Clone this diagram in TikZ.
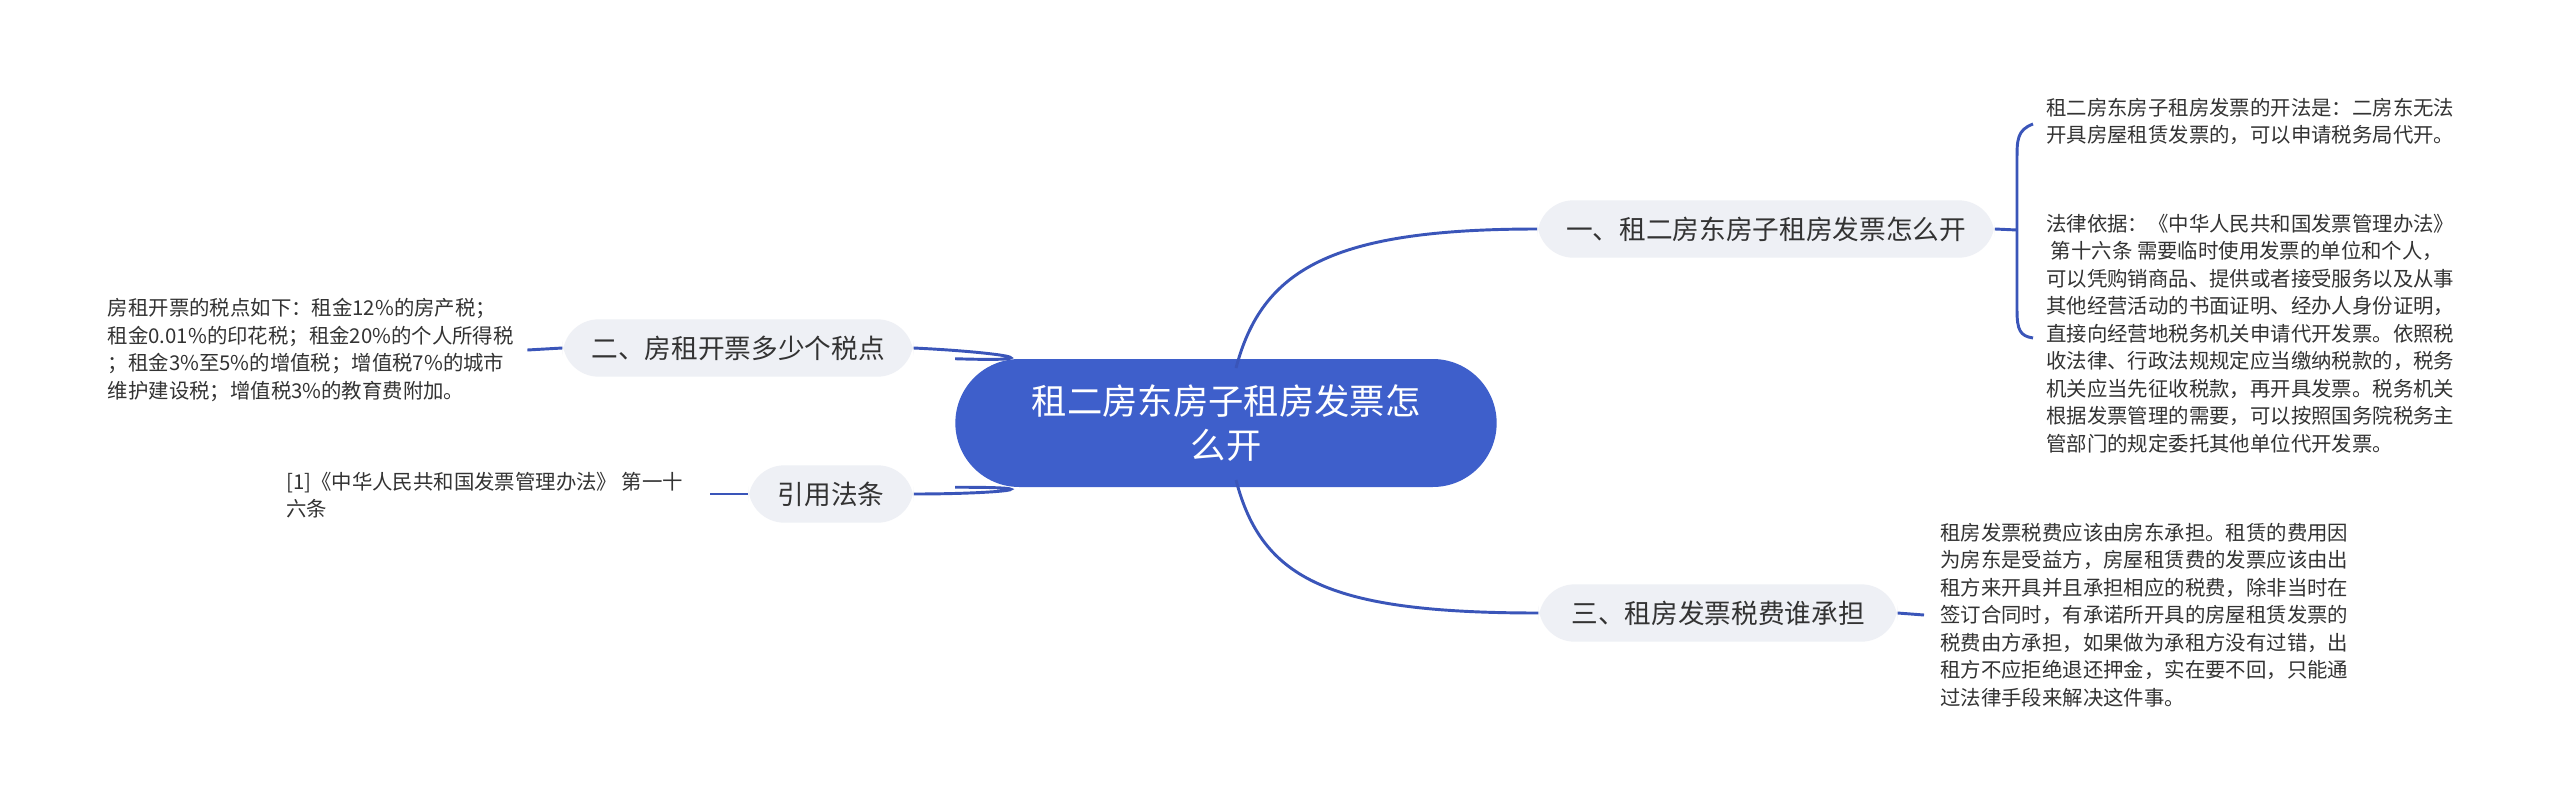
\documentclass[tikz,border=0pt]{standalone}
\usepackage{fontspec}
\setmainfont{Noto Sans CJK SC}
\definecolor{lineblue}{HTML}{3A55B9}
\definecolor{mainblue}{HTML}{3E5FCB}
\definecolor{pill}{HTML}{EEF0F5}
\definecolor{txt}{HTML}{333333}
\tikzset{
  conn/.style={draw=lineblue, line width=2.2pt},
  branch/.style={fill=pill, rounded corners=27pt, text=txt, font=\fontsize{20}{24}\selectfont, minimum height=43pt, inner xsep=14pt},
  leaf/.style={text=txt, font=\fontsize{15.3}{20.6}\selectfont, align=left, inner sep=0pt},
}
\begin{document}
\begin{tikzpicture}[x=0.75pt,y=-0.75pt]
\useasboundingbox[fill=white] (0,0) rectangle (2560,807);
% central
\node[fill=mainblue, text=white, rounded corners=48pt, minimum width=406pt, minimum height=96pt, align=center, font=\fontsize{26.5}{33}\selectfont] (c) at (1226,423) {租二房东房子租房发票怎\\么开};
% branches
\node[branch, minimum width=343pt] (b1) at (1766,229) {一、租二房东房子租房发票怎么开};
\node[branch, minimum width=269pt] (b3) at (1718,613) {三、租房发票税费谁承担};
\node[branch, minimum width=263pt] (b2) at (738,348) {二、房租开票多少个税点};
\node[branch, minimum width=124pt] (b4) at (831,494) {引用法条};
% leaves
\node[leaf, anchor=north west] (l1) at (2046,98) {租二房东房子租房发票的开法是：二房东无法\\开具房屋租赁发票的，可以申请税务局代开。};
\node[leaf, anchor=north west] (l2) at (2046,214) {法律依据：《中华人民共和国发票管理办法》\\\ 第十六条 需要临时使用发票的单位和个人，\\可以凭购销商品、提供或者接受服务以及从事\\其他经营活动的书面证明、经办人身份证明，\\直接向经营地税务机关申请代开发票。依照税\\收法律、行政法规规定应当缴纳税款的，税务\\机关应当先征收税款，再开具发票。税务机关\\根据发票管理的需要，可以按照国务院税务主\\管部门的规定委托其他单位代开发票。};
\node[leaf, anchor=west] (l3) at (1940,615) {租房发票税费应该由房东承担。租赁的费用因\\为房东是受益方，房屋租赁费的发票应该由出\\租方来开具并且承担相应的税费，除非当时在\\签订合同时，有承诺所开具的房屋租赁发票的\\税费由方承担，如果做为承租方没有过错，出\\租方不应拒绝退还押金，实在要不回，只能通\\过法律手段来解决这件事。};
\node[leaf, anchor=east] (l4) at (514,350) {房租开票的税点如下：租金12\%的房产税；\\租金0.01\%的印花税；租金20\%的个人所得税\\；租金3\%至5\%的增值税；增值税7\%的城市\\维护建设税；增值税3\%的教育费附加。};
\node[leaf, anchor=west] (l5) at (286,495) {[1]《中华人民共和国发票管理办法》 第一十\\六条};
% coordinates
\coordinate (s1) at (1236,368);
\coordinate (s3) at (1236,480);
\coordinate (j1) at (2017,230);
% main connectors
\draw[conn] (s1) .. controls (1262,270) and (1330,229) .. (b1.west);
\draw[conn] (s3) .. controls (1262,580) and (1330,613) .. (b3.west);
\draw[conn] (b2.east) .. controls (1000,352) and (1060,362) .. (c.north west);
\draw[conn] (b4.east) .. controls (1000,494) and (1060,487) .. (c.south west);
% leaf connectors
\draw[conn] (b1.east) -- (j1);
\draw[conn] (l1.west) ++(-12,0) coordinate (t1);
\draw[conn] (2033,124) .. controls (2017,130) and (2017,140) .. (2017,160) -- (2017,310) .. controls (2017,330) and (2020,336) .. (2033,338);
\draw[conn] (b3.east) -- ([xshift=-12]l3.west);
\draw[conn] (b2.west) -- ([xshift=10]l4.east);
\draw[conn] (b4.west) -- (710,494);
\end{tikzpicture}
\end{document}
